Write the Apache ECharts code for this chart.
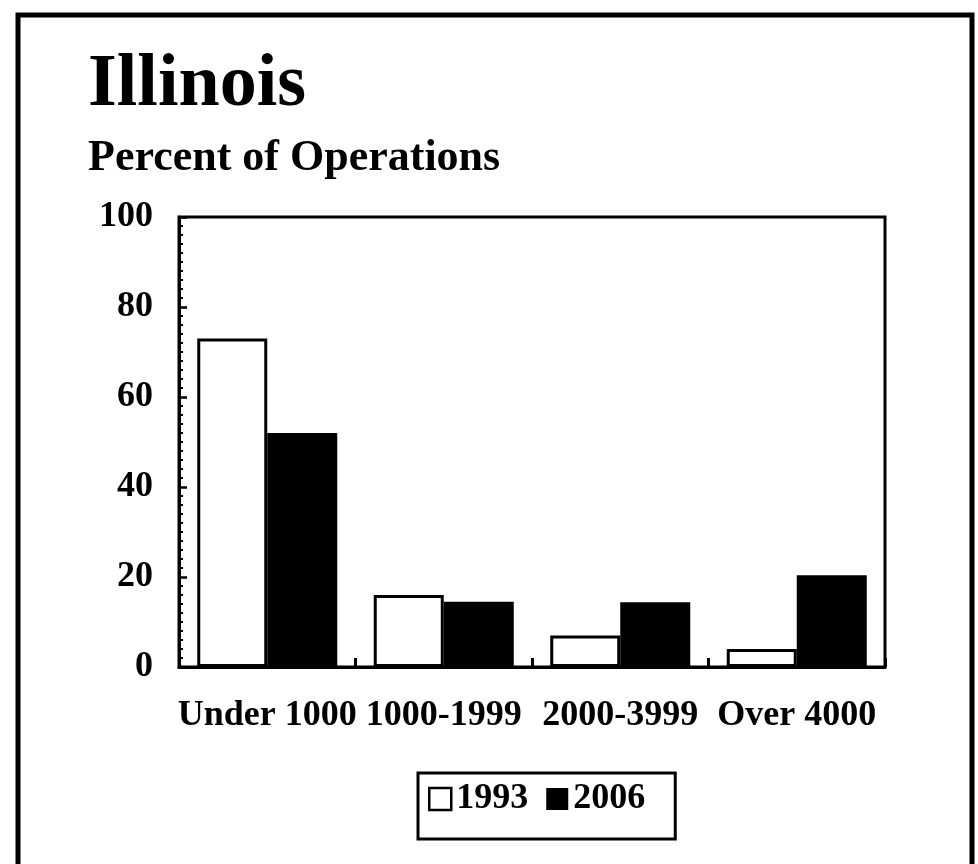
<!DOCTYPE html>
<html>
<head>
<meta charset="utf-8">
<script src="https://cdn.jsdelivr.net/npm/echarts@6/dist/echarts.min.js"></script>
<style>html,body{margin:0;padding:0;background:#fff}#c{width:978px;height:864px}</style>
</head>
<body>
<div id="c"></div>
<script>
const categories = ['Under 1000', '1000-1999', '2000-3999', 'Over 4000'];
const values1993 = [73, 16, 7, 4];
const values2006 = [52, 14.5, 14.4, 20.4];
const seriesNames = ['1993', '2006'];
const yTicks = [0, 20, 40, 60, 80, 100];
const titleText = 'Illinois';
const subtitleText = 'Percent of Operations';

const FONT = '"Liberation Serif", "Times New Roman", serif';
const chart = echarts.init(document.getElementById('c'), null, {renderer: 'canvas'});
chart.setOption({
  backgroundColor: '#fff',
  animation: false,
  graphic: [
    {type: 'rect', shape: {x: 18, y: 15, width: 954, height: 900}, style: {fill: 'none', stroke: '#000', lineWidth: 5}, z: 0},
    {type: 'text', left: 88, top: 49, style: {text: titleText, font: 'bold 74px ' + FONT, fill: '#000'}},
    {type: 'text', left: 88, top: 137, style: {text: subtitleText, font: 'bold 44px ' + FONT, fill: '#000'}}
  ],
  grid: {left: 179, right: 93, top: 217, bottom: 197, show: true, borderColor: '#000', borderWidth: 3, backgroundColor: 'transparent'},
  legend: {
    left: 418, top: 773,
    data: [
      {name: seriesNames[0], icon: 'rect', itemStyle: {color: '#fff', borderColor: '#000', borderWidth: 2.5}},
      {name: seriesNames[1], icon: 'rect', itemStyle: {color: '#000', borderColor: '#000', borderWidth: 0}}
    ],
    itemWidth: 22, itemHeight: 22, itemGap: 18,
    borderColor: '#000', borderWidth: 3,
    padding: [8, 30, 22, 10],
    textStyle: {fontFamily: FONT, fontWeight: 'bold', fontSize: 36, color: '#000'}
  },
  xAxis: {
    type: 'category', data: categories,
    axisLine: {lineStyle: {color: '#000', width: 3}},
    axisTick: {show: true, inside: true, length: 9, lineStyle: {color: '#000', width: 3}},
    axisLabel: {color: '#000', fontFamily: FONT, fontWeight: 'bold', fontSize: 36, margin: 31, interval: 0},
    z: 10
  },
  yAxis: {
    type: 'value', min: yTicks[0], max: yTicks[yTicks.length - 1], interval: 20,
    axisLine: {show: true, lineStyle: {color: '#000', width: 3}},
    axisTick: {show: true, inside: true, length: 8, lineStyle: {color: '#000', width: 2.5}},
    minorTick: {show: true, splitNumber: 10, length: 4, lineStyle: {color: '#000', width: 2}},
    splitLine: {show: false},
    axisLabel: {color: '#000', fontFamily: FONT, fontWeight: 'bold', fontSize: 36, margin: 26}
  },
  series: [
    {name: seriesNames[0], type: 'bar', data: values1993, barWidth: 70, barGap: '0%',
     itemStyle: {color: '#fff', borderColor: '#000', borderWidth: 3}},
    {name: seriesNames[1], type: 'bar', data: values2006, barWidth: 70, barGap: '0%',
     itemStyle: {color: '#000', borderColor: '#000', borderWidth: 0}}
  ]
});
</script>
</body>
</html>
